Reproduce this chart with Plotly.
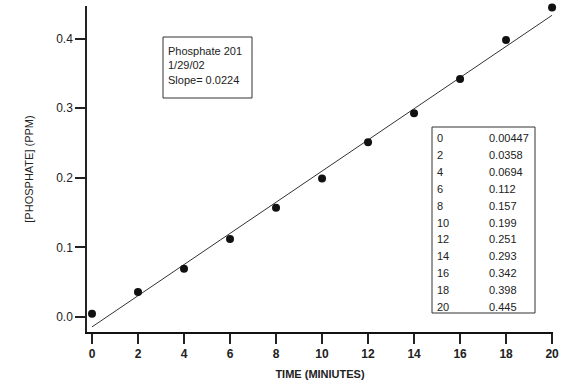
import plotly.graph_objects as go

time_min = [0, 2, 4, 6, 8, 10, 12, 14, 16, 18, 20]
phosphate_ppm = [0.00447, 0.0358, 0.0694, 0.112, 0.157, 0.199, 0.251, 0.293, 0.342, 0.398, 0.445]
table_x_labels = ["0", "2", "4", "6", "8", "10", "12", "14", "16", "18", "20"]
table_y_labels = ["0.00447", "0.0358", "0.0694", "0.112", "0.157", "0.199",
                  "0.251", "0.293", "0.342", "0.398", "0.445"]
fit_x = [0, 20]
fit_y = [-0.0143, 0.4337]
info_lines = ["Phosphate 201", "1/29/02", "Slope= 0.0224"]
y_ticks = [0.0, 0.1, 0.2, 0.3, 0.4]
x_ticks = [0, 2, 4, 6, 8, 10, 12, 14, 16, 18, 20]

W, H = 566, 386
L, R, T, B = 87, 13, 6, 54
PW, PH = W - L - R, H - T - B


def px(x):
    return (x - L) / PW


def py(y):
    return (H - B - y) / PH


FONT = "Liberation Sans, Arial, sans-serif"

fig = go.Figure()
fig.add_trace(go.Scatter(x=fit_x, y=fit_y, mode="lines",
                         line=dict(color="#333333", width=1), hoverinfo="skip",
                         showlegend=False))
fig.add_trace(go.Scatter(x=time_min, y=phosphate_ppm, mode="markers",
                         marker=dict(color="#111111", size=8), cliponaxis=False,
                         showlegend=False))

shapes = []
annotations = []
# info box
shapes.append(dict(type="rect", xref="paper", yref="paper",
                   x0=px(163), x1=px(252), y0=py(98), y1=py(37),
                   line=dict(color="#333333", width=1)))
for i, t in enumerate(info_lines):
    annotations.append(dict(xref="paper", yref="paper", x=px(166), y=py(51 + i * 14.5),
                            text=t, showarrow=False, xanchor="left", yanchor="middle",
                            font=dict(family=FONT, size=11, color="#222222")))
# data table box
shapes.append(dict(type="rect", xref="paper", yref="paper",
                   x0=px(432), x1=px(535), y0=py(313), y1=py(127),
                   line=dict(color="#333333", width=1)))
for i, (a, b) in enumerate(zip(table_x_labels, table_y_labels)):
    yy = py(138 + i * 16.9)
    annotations.append(dict(xref="paper", yref="paper", x=px(435), y=yy, text=a,
                            showarrow=False, xanchor="left", yanchor="middle",
                            font=dict(family=FONT, size=11, color="#222222")))
    annotations.append(dict(xref="paper", yref="paper", x=px(487), y=yy, text=b,
                            showarrow=False, xanchor="left", yanchor="middle",
                            font=dict(family=FONT, size=11, color="#222222")))

fig.update_layout(
    width=W, height=H,
    margin=dict(l=L, r=R, t=T, b=B),
    plot_bgcolor="white", paper_bgcolor="white",
    shapes=shapes, annotations=annotations,
    font=dict(family=FONT, color="#222222"),
    xaxis=dict(range=[-0.217, 20.04], tickvals=x_ticks,
               ticktext=["<b>%d</b>" % v for v in x_ticks],
               ticks="outside", ticklen=10,
               tickwidth=1.5, tickcolor="#222222", showline=True, linecolor="#111111",
               linewidth=2, showgrid=False, zeroline=False,
               tickfont=dict(family=FONT, size=12, color="#222222"),
               title=dict(text="<b>TIME (MINIUTES)</b>", standoff=10,
                          font=dict(family=FONT, size=11, color="#222222"))),
    yaxis=dict(range=[-0.0216, 0.447], tickvals=y_ticks, tickformat=".1f",
               ticks="outside", ticklen=10, tickwidth=1.5, tickcolor="#222222",
               showline=True, linecolor="#222222", linewidth=1.5, showgrid=False,
               zeroline=False, tickfont=dict(family=FONT, size=12, color="#222222"),
               title=dict(text="[PHOSPHATE] (PPM)", standoff=20,
                          font=dict(family=FONT, size=11, color="#222222"))),
)

fig.write_html("out.html")
